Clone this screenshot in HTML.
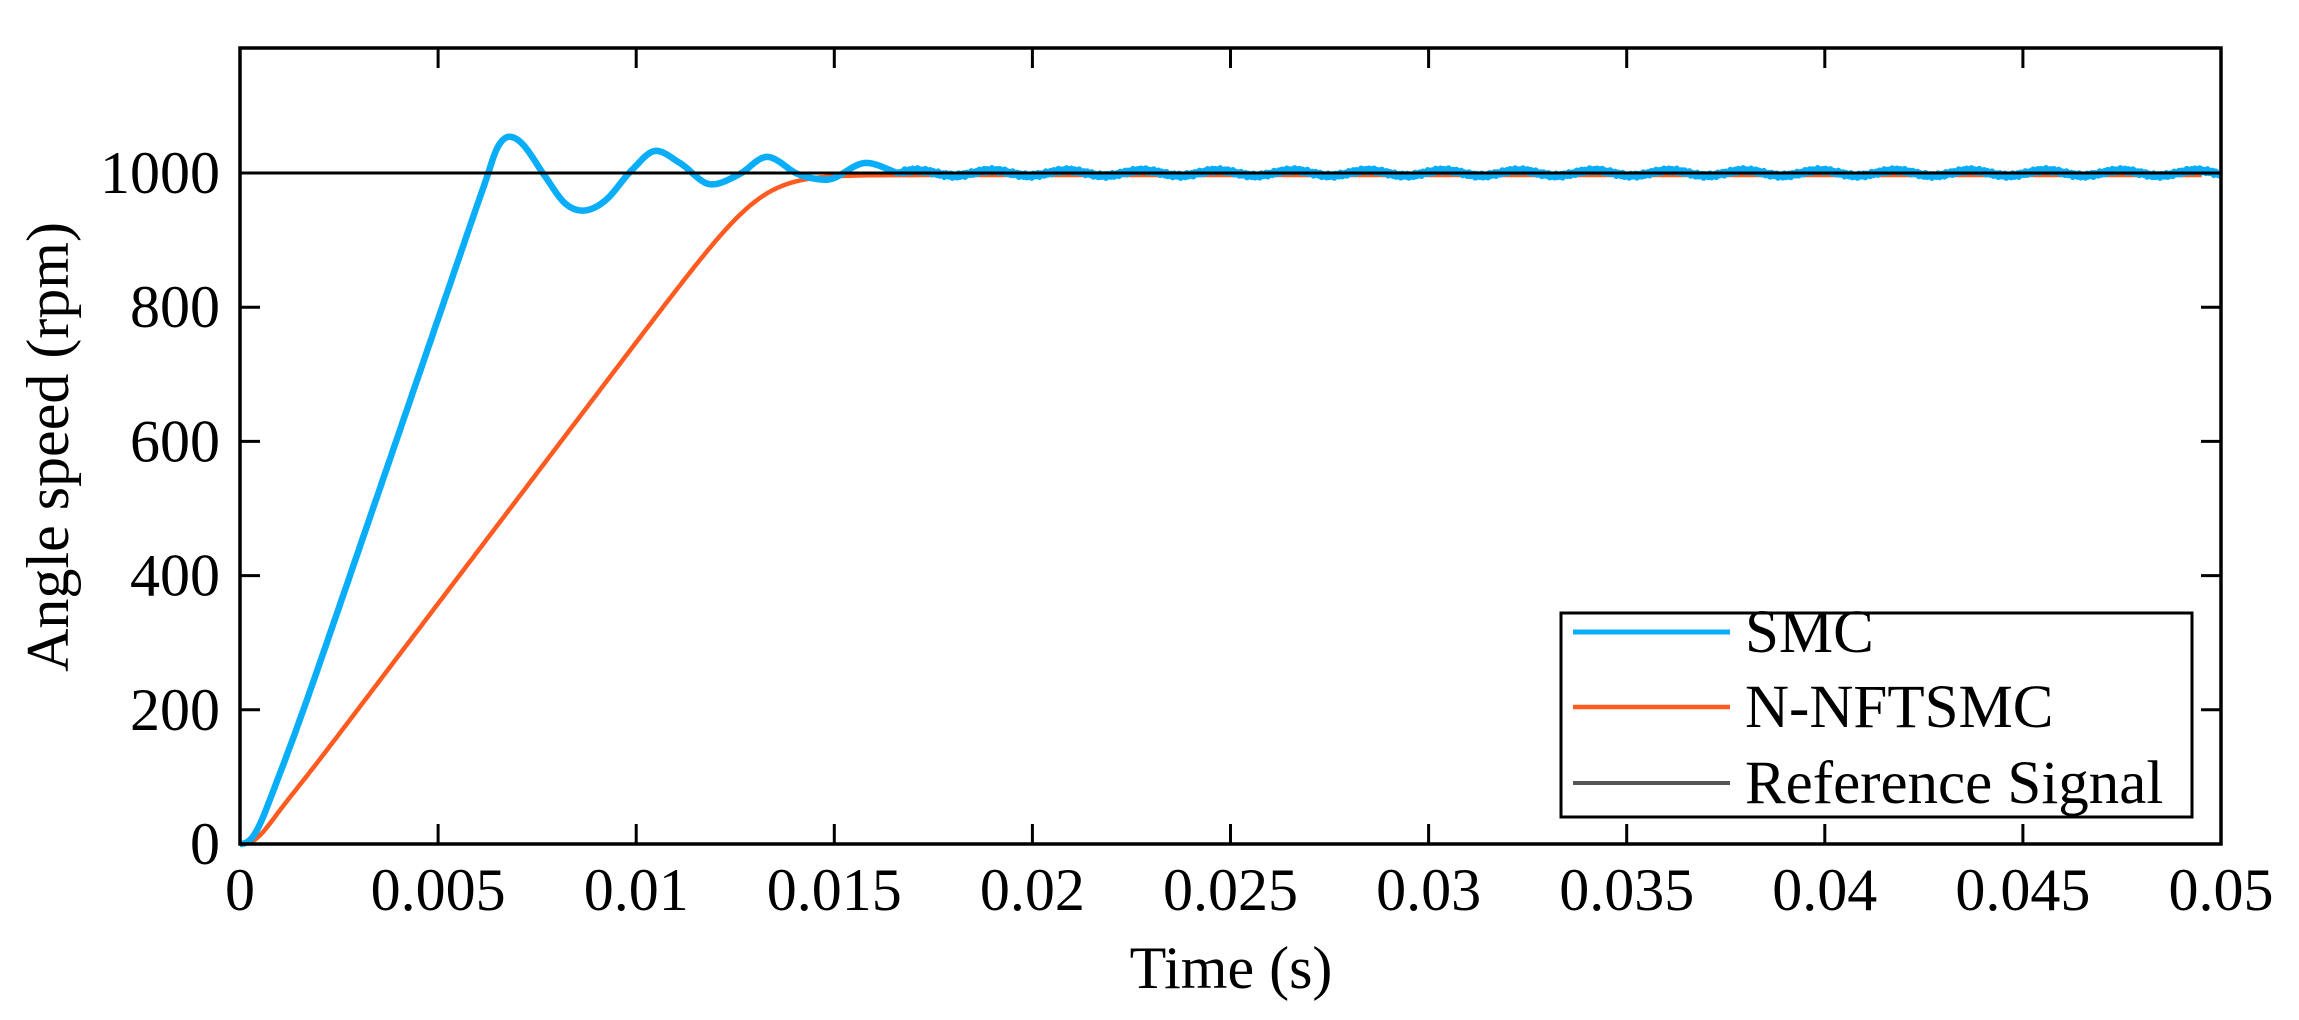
<!DOCTYPE html>
<html><head><meta charset="utf-8"><style>
html,body{margin:0;padding:0;background:#fff;}
svg{display:block;}
text{font-family:"Liberation Serif",serif;fill:#000;}
</style></head><body>
<svg id="s" width="2299" height="1020" viewBox="0 0 2299 1020" xmlns="http://www.w3.org/2000/svg">
<rect width="2299" height="1020" fill="#fff"/>
<g id="ticks" stroke="#000" stroke-width="3"></g>
<g id="labels" font-size="60"></g>
<path id="orange" fill="none" stroke="#FF5A1F" stroke-width="4.5" stroke-linejoin="round"/>
<path id="blue" fill="none" stroke="#0AAEF8" stroke-width="6.5" stroke-linejoin="round"/>
<line x1="240" y1="173" x2="2221" y2="173" stroke="#000" stroke-width="3"/>
<rect x="240" y="48" width="1981" height="796" fill="none" stroke="#000" stroke-width="3.5"/>
<g>
<rect x="1561" y="613" width="631" height="204" fill="#fff" stroke="#000" stroke-width="3"/>
<line x1="1573" y1="632" x2="1730" y2="632" stroke="#0AAEF8" stroke-width="5"/>
<line x1="1573" y1="707" x2="1730" y2="707" stroke="#FF5A1F" stroke-width="4.5"/>
<line x1="1573" y1="783" x2="1730" y2="783" stroke="#555" stroke-width="4"/>
<text x="1745" y="652" font-size="61">SMC</text>
<text x="1745" y="727" font-size="61">N-NFTSMC</text>
<text x="1745" y="803" font-size="61">Reference Signal</text>
</g>
<text x="1231" y="988" font-size="60" text-anchor="middle">Time (s)</text>
<text transform="translate(68,447) rotate(-90)" font-size="60" text-anchor="middle">Angle speed (rpm)</text>
</svg>
<script>
var L=240,R=2221,T=48,B=844;
function X(t){return L+(t/0.05)*(R-L);}
function Y(v){return B-0.671*v;}
var tk=document.getElementById('ticks'),lb=document.getElementById('labels');
var ns='http://www.w3.org/2000/svg';
function ln(a,b,c,d){var e=document.createElementNS(ns,'line');e.setAttribute('x1',a);e.setAttribute('y1',b);e.setAttribute('x2',c);e.setAttribute('y2',d);tk.appendChild(e);}
function tx(x,y,s,anc){var e=document.createElementNS(ns,'text');e.setAttribute('x',x);e.setAttribute('y',y);e.setAttribute('text-anchor',anc);e.textContent=s;lb.appendChild(e);}
var xl=['0','0.005','0.01','0.015','0.02','0.025','0.03','0.035','0.04','0.045','0.05'];
for(var i=0;i<=10;i++){var x=X(i*0.005);ln(x,B,x,B-20);ln(x,T,x,T+20);tx(x,910,xl[i],'middle');}
for(var v=0;v<=1000;v+=200){var y=Y(v);ln(L,y,L+20,y);ln(R,y,R-20,y);tx(220,y+20,String(v),'end');}
function spl(pts){var n=pts.length,m=[];for(var i=0;i<n;i++){if(i==0)m.push((pts[1][1]-pts[0][1])/(pts[1][0]-pts[0][0]));else if(i==n-1)m.push((pts[i][1]-pts[i-1][1])/(pts[i][0]-pts[i-1][0]));else{var d0=(pts[i][1]-pts[i-1][1])/(pts[i][0]-pts[i-1][0]),d1=(pts[i+1][1]-pts[i][1])/(pts[i+1][0]-pts[i][0]);m.push(d0*d1<=0?0:(d0+d1)/2);}}
var out=[];for(var i=0;i<n-1;i++){var h=pts[i+1][0]-pts[i][0];for(var k=0;k<16;k++){var s=k/16,s2=s*s,s3=s2*s;var v=(2*s3-3*s2+1)*pts[i][1]+(s3-2*s2+s)*h*m[i]+(-2*s3+3*s2)*pts[i+1][1]+(s3-s2)*h*m[i+1];out.push([pts[i][0]+s*h,v]);}}out.push(pts[n-1]);return out;}
function path(pts){return pts.map(function(p,i){return (i?'L':'M')+X(p[0]).toFixed(1)+' '+Y(p[1]).toFixed(1);}).join('');}
function sp(x){return x>30?x:Math.log(1+Math.exp(x));}
var bpts=[];
var kb=172000,t0b=0.00045,wb=0.00035;
for(var t=0;t<0.0058;t+=0.00005){var v=kb*wb*sp((t-t0b)/wb);v*=(1-Math.exp(-Math.pow(t/0.0005,2)));bpts.push([t,v]);}
var vend=kb*wb*sp((0.0058-t0b)/wb);
var bp=[[0.0058,vend],[0.0062,vend+68],[0.0065,1038],[0.0068,1054],[0.0071,1045],[0.0077,995],[0.0082,955],[0.00865,944],[0.0092,958],[0.0099,1005],[0.0105,1033],[0.0111,1015],[0.0119,983],[0.0126,998],[0.0133,1024],[0.0141,998],[0.0148,990],[0.0158,1015],[0.0166,1000]];
bpts=bpts.concat(spl(bp));
for(var t=0.0167;t<=0.05;t+=0.00004){var v=1000+4*Math.sin(2*Math.PI*(t-0.0166)/0.0019)+3*Math.sin(t*60000);bpts.push([t,v]);}
document.getElementById('blue').setAttribute('d',path(bpts));
var op=[];var ko=77900,t0o=0.0004,wo=0.0004;
for(var t=0;t<=0.05;t+=(t<0.02?0.00003:0.0005)){var lin=ko*wo*sp((t-t0o)/wo);lin*=(1-Math.exp(-Math.pow(t/0.0006,2)));var v=997-45*sp((997-lin)/45);op.push([t,Math.max(v,0)]);}
document.getElementById('orange').setAttribute('d',path(op));
</script>
</body></html>
